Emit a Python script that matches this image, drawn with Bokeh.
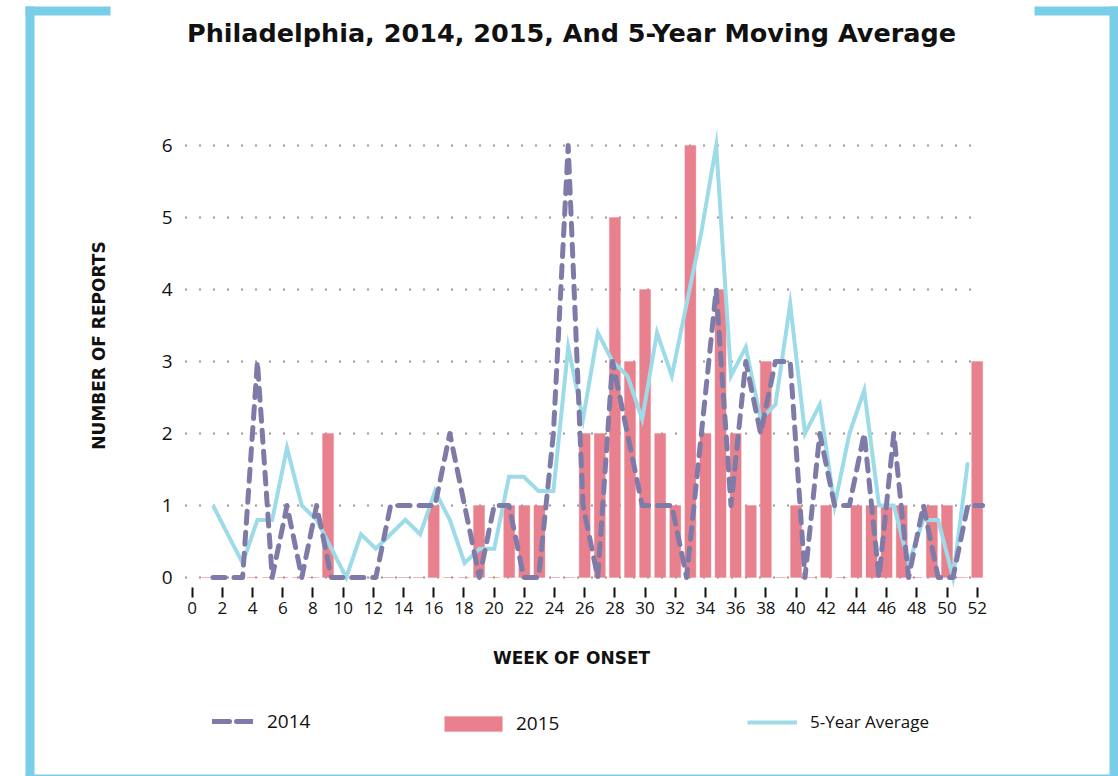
import math
from bokeh.plotting import figure
from bokeh.models import (Range1d, FixedTicker, Label, Legend, LegendItem, BoxAnnotation)
from bokeh.embed import file_html
from bokeh.resources import INLINE

# ---------------- data ----------------
weeks_2015 = list(range(1, 53))
cases_2015 = [0, 0, 0, 0, 0, 0, 0, 0, 2, 0,
              0, 0, 0, 0, 0, 1, 0, 0, 1, 0,
              1, 1, 1, 0, 0, 2, 2, 5, 3, 4,
              2, 1, 6, 2, 4, 2, 1, 3, 0, 1,
              0, 1, 0, 1, 1, 1, 1, 0, 1, 1,
              0, 3]

weeks_2014 = list(range(1, 54))
cases_2014 = [0, 0, 0, 3, 0, 1, 0, 1, 0, 0,
              0, 0, 1, 1, 1, 1, 2, 1, 0, 1,
              1, 0, 0, 2, 6, 1, 0, 3, 2, 1,
              1, 1, 0, 2, 4, 1, 3, 2, 3, 3,
              0, 2, 1, 1, 2, 0, 2, 0, 1, 0,
              0, 1, 1]

weeks_avg = list(range(1, 53))
avg_5yr = [1.0, 0.6, 0.2, 0.8, 0.8, 1.8, 1.0, 0.8, 0.4, 0.0,
           0.6, 0.4, 0.6, 0.8, 0.6, 1.2, 0.8, 0.2, 0.4, 0.4,
           1.4, 1.4, 1.2, 1.2, 3.2, 2.2, 3.4, 3.0, 2.8, 2.2,
           3.4, 2.8, 3.8, 4.8, 6.0, 2.8, 3.2, 2.2, 2.4, 3.8,
           2.0, 2.4, 1.0, 2.0, 2.6, 1.0, 1.0, 0.2, 0.8, 0.8,
           0.0, 1.6]

x_ticks = list(range(0, 53, 2))
y_ticks = [0, 1, 2, 3, 4, 5, 6]

title_text = "Philadelphia, 2014, 2015, And 5-Year Moving Average"
x_title = "WEEK OF ONSET"
y_title = "NUMBER OF REPORTS"
legend_labels = ["2014", "2015", "5-Year Average"]

# ---------------- style / layout ----------------
C_2014 = "#7f7ba8"
C_2015 = "#e8818d"
C_AVG = "#9ddbe9"
C_FRAME = "#78cee6"

W, H = 1118, 776
PX0, PXW = 191.7, 15.096        # pixel of week 0, pixels per week
PY0, PYU = 577.0, 72.0          # pixel of 0 reports, pixels per report
LX0, LXW = 197.7, 14.8          # pixel of line index 0, pixels per index
AREA_L, AREA_R, AREA_B = 185.0, 983.0, 587.0

xr = Range1d(-PX0 / PXW, (W - PX0) / PXW)
yr = Range1d(-(H - PY0) / PYU, PY0 / PYU)
p = figure(width=W, height=H, output_backend="svg", toolbar_location=None,
           x_range=xr, y_range=yr, min_border=0, min_border_left=0,
           min_border_right=0, min_border_top=0, min_border_bottom=0)
p.extra_x_ranges = {"idx": Range1d(-LX0 / LXW, (W - LX0) / LXW)}
p.outline_line_color = None
p.background_fill_color = "white"
p.border_fill_color = "white"
p.xgrid.visible = False
p.ygrid.visible = False

x_left = (AREA_L - PX0) / PXW
x_right = (AREA_R - PX0) / PXW
y_axis_pos = -(AREA_B - PY0) / PYU

# dotted horizontal grid
p.segment(x0=[x_left] * len(y_ticks), x1=[x_right] * len(y_ticks),
          y0=y_ticks, y1=y_ticks, line_color="#333333", line_width=2,
          line_dash="1 13")

xa = p.xaxis[0]
xa.fixed_location = y_axis_pos
xa.ticker = FixedTicker(ticks=x_ticks)
xa.axis_line_color = None
xa.major_tick_line_color = "#111111"
xa.major_tick_line_width = 2
xa.major_tick_out = 10
xa.major_tick_in = 0
xa.minor_tick_line_color = None
xa.major_label_standoff = 4
xa.major_label_text_font = "Open Sans"
xa.major_label_text_font_size = "17px"
xa.major_label_text_color = "#111111"

ya = p.yaxis[0]
ya.fixed_location = x_left
ya.ticker = FixedTicker(ticks=y_ticks)
ya.axis_line_color = None
ya.major_tick_line_color = None
ya.major_tick_out = 0
ya.major_tick_in = 0
ya.minor_tick_line_color = None
ya.major_label_standoff = 13
ya.major_label_text_font = "Open Sans"
ya.major_label_text_font_size = "19px"
ya.major_label_text_color = "#111111"

# ---------------- glyphs ----------------
bars = p.vbar(x=weeks_2015, top=cases_2015, bottom=0, width=0.73,
              fill_color=C_2015, line_color=C_2015, line_alpha=0.35, line_width=1)

avg_line = p.line(weeks_avg, avg_5yr, x_range_name="idx", line_color=C_AVG,
                  line_width=4, line_join="miter")

l2014 = p.line(weeks_2014, cases_2014, x_range_name="idx", line_color=C_2014,
               line_width=5, line_dash="12 9", line_cap="round", line_join="round")

# off-screen renderer used only for the legend's dashed sample
leg2014 = p.line([-100, -99], [-100, -100], line_color=C_2014, line_width=5,
                 line_dash="17 7", line_cap="round")

def add_legend(label, renderer, vx, vy, gw, gh, fs, standoff):
    lg = Legend(items=[LegendItem(label=label, renderers=[renderer])],
                location=(vx, vy), orientation="horizontal",
                glyph_width=gw, glyph_height=gh, label_standoff=standoff,
                padding=0, margin=0, spacing=0,
                border_line_color=None, background_fill_alpha=0,
                label_text_font="Open Sans", label_text_font_size=fs,
                label_text_color="#111111", label_height=16)
    p.add_layout(lg)

add_legend(legend_labels[0], leg2014, 212, H - 734, 41, 16, "19px", 14)
add_legend(legend_labels[1], bars, 437, H - 736, 72, 19, "19px", 7)
add_legend(legend_labels[2], avg_line, 747, H - 733, 50, 16, "17px", 13)

# ---------------- texts ----------------
p.add_layout(Label(x=571, y=H - 32, x_units="screen", y_units="screen", text=title_text,
                   text_align="center", text_baseline="alphabetic",
                   text_font="DejaVu Sans", text_font_style="bold",
                   text_font_size="25.5px", text_color="#111111"))
p.add_layout(Label(x=571, y=H - 657, x_units="screen", y_units="screen", text=x_title,
                   text_align="center", text_baseline="middle",
                   text_font="DejaVu Sans", text_font_style="bold",
                   text_font_size="17px", text_color="#111111"))
p.add_layout(Label(x=98, y=H - 345, x_units="screen", y_units="screen", text=y_title,
                   angle=math.pi / 2, text_align="center", text_baseline="middle",
                   text_font="DejaVu Sans", text_font_style="bold",
                   text_font_size="17px", text_color="#111111"))

# ---------------- decorative frame ----------------
def frame_box(l, r, b, t):
    p.add_layout(BoxAnnotation(left=l, right=r, bottom=b, top=t,
                               left_units="screen", right_units="screen",
                               bottom_units="screen", top_units="screen",
                               fill_color=C_FRAME, fill_alpha=1.0,
                               line_color=None, level="overlay"))

frame_box(25, 34, -5, H - 6)          # left vertical
frame_box(25, 110, H - 15, H - 6)     # top-left
frame_box(1034, W + 5, H - 15, H - 6) # top-right
frame_box(1109, W + 5, -5, H - 6)     # right vertical
frame_box(25, W + 5, -5, 2)           # bottom

open("out.html", "w").write(file_html(p, INLINE))
